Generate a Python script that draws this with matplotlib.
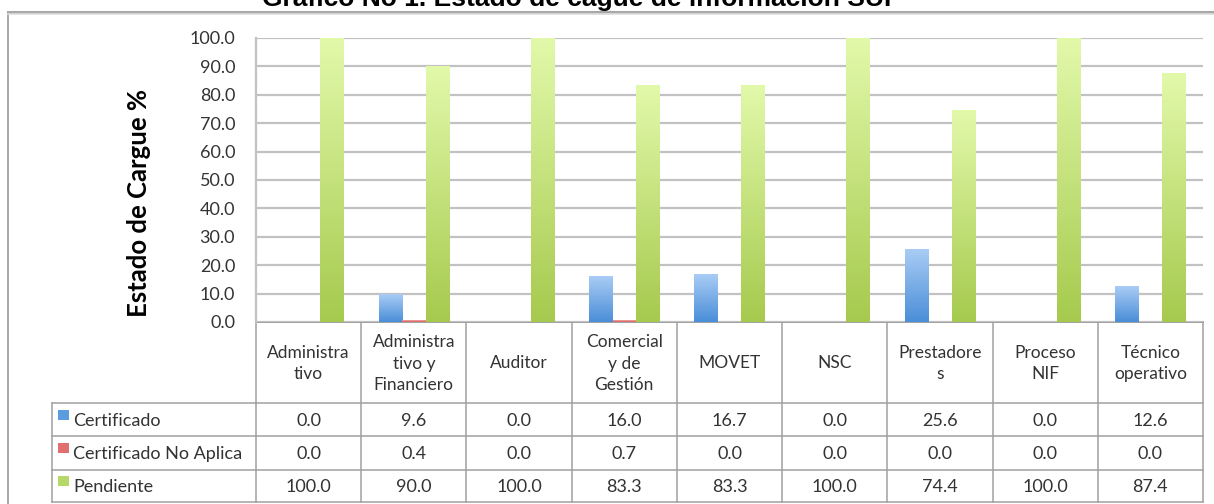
import numpy as np
import matplotlib
matplotlib.use("Agg")
import matplotlib.pyplot as plt
import matplotlib.transforms as mtransforms
from matplotlib.colors import LinearSegmentedColormap

categories = ["Administra\ntivo", "Administra\ntivo y\nFinanciero", "Auditor",
              "Comercial\ny de\nGestión", "MOVET", "NSC", "Prestadore\ns",
              "Proceso\nNIF", "Técnico\noperativo"]
certificado = [0.0, 9.6, 0.0, 16.0, 16.7, 0.0, 25.6, 0.0, 12.6]
no_aplica = [0.0, 0.4, 0.0, 0.7, 0.0, 0.0, 0.0, 0.0, 0.0]
pendiente = [100.0, 90.0, 100.0, 83.3, 83.3, 100.0, 74.4, 100.0, 87.4]
series_names = ["Certificado", "Certificado No Aplica", "Pendiente"]
yticks = np.arange(0, 101, 10)

# (bottom colour, top colour) of the Excel-like gradients
grads = [("#4a8ed8", "#a9ccf5"), ("#d95a5a", "#f3a9a9"), ("#a6ca4e", "#e2f9aa")]
keys = ["#5b9be0", "#e07070", "#b5d868"]

W, H = 1214, 504
fig = plt.figure(figsize=(W / 100, H / 100), dpi=100)
plt.rcParams["font.family"] = ["Lato", "DejaVu Sans"]
txt = "#333333"

# overlay in pixel coordinates for frame, title, table
ov = fig.add_axes([0, 0, 1, 1], zorder=0)
ov.set_xlim(0, W)
ov.set_ylim(H, 0)
ov.axis("off")

ax = fig.add_axes([256 / W, (H - 322) / H, (1203 - 256) / W, (322 - 38) / H], zorder=1)
ax.set_facecolor("none")

n = len(categories)
x = np.arange(n)
bw = 1 / 4.5
data = [certificado, no_aplica, pendiente]
for k, vals in enumerate(data):
    bars = ax.bar(x + (k - 1) * bw, vals, bw, color=keys[k], zorder=3, linewidth=0)
    cmap = LinearSegmentedColormap.from_list("g%d" % k, grads[k])
    for p in bars:
        h = p.get_height()
        if h <= 0:
            continue
        x0 = p.get_x()
        ax.imshow(np.linspace(0, 1, 128).reshape(-1, 1), cmap=cmap, origin="lower",
                  extent=[x0, x0 + p.get_width(), 0, h], aspect="auto", zorder=4)

ax.set_xlim(-0.5, n - 0.5)
ax.set_ylim(0, 100)
ax.set_yticks(yticks)
ax.set_yticklabels(["%.1f" % v for v in yticks], fontsize=13, color=txt)
ax.tick_params(axis="y", length=0, pad=15)
ax.set_xticks([])
ax.grid(axis="y", color="#c2c2c2", linewidth=1.6, zorder=0)
for s in ["top", "right", "bottom"]:
    ax.spines[s].set_visible(False)
ax.spines["left"].set_color("#c2c2c2")
ax.spines["left"].set_linewidth(1.6)
ax.set_ylabel("Estado de Cargue %", fontsize=18.5, fontweight="bold", va="center")
ax.yaxis.set_label_coords(-0.1236, 0.42)

# outer frame and (clipped) title
ov.plot([8, 8], [12, H], color="#a8a8a8", lw=1.4)
ov.plot([8, W], [12, 12], color="#a8a8a8", lw=2.2)
ov.plot([8, W], [14, 14], color="#dddddd", lw=1.2)
ov.text(577, 6, "Grafico No 1. Estado de cague de información SUI", ha="center",
        va="baseline", fontsize=19, fontweight="bold", family="Liberation Sans")

# data table, columns follow the bar axis
tr = mtransforms.blended_transform_factory(ax.transData, ov.transData)
lc = "#a0a0a0"
top, hdr = 322, 403
rows = [403, 436, 470, 502]
ov.plot([-0.5, n - 0.5], [top, top], color=lc, lw=1.4, transform=tr)
for i in range(n + 1):
    ov.plot([i - 0.5, i - 0.5], [top, rows[-1]], color=lc, lw=1.1, transform=tr)
for yy in rows:
    ov.plot([52, 256], [yy, yy], color=lc, lw=1.1)
    ov.plot([-0.5, n - 0.5], [yy, yy], color=lc, lw=1.1, transform=tr)
ov.plot([52, 52], [rows[0], rows[-1]], color=lc, lw=1.1)
for i, lab in enumerate(categories):
    ov.text(i, (top + hdr) / 2 + 1, lab, ha="center", va="center", fontsize=12.5,
            color=txt, linespacing=1.45, transform=tr)
for r, (name, vals) in enumerate(zip(series_names, data)):
    yc = (rows[r] + rows[r + 1]) / 2
    ov.add_patch(plt.Rectangle((58, yc - 10), 11, 10, color=keys[r], lw=0))
    ov.text(73, yc + 1, name, ha="left", va="center", fontsize=13, color=txt)
    for i, v in enumerate(vals):
        ov.text(i, yc + 1, "%.1f" % v, ha="center", va="center", fontsize=13,
                color=txt, transform=tr)

fig.savefig("out.png", dpi=100)
